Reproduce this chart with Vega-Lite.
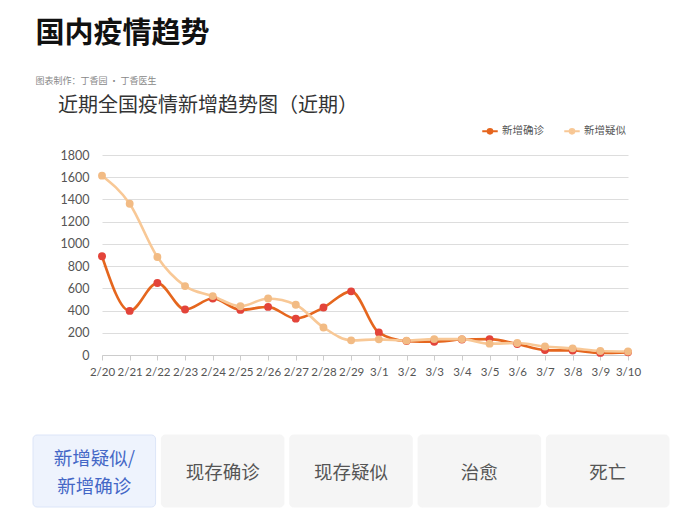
{
  "$schema": "https://vega.github.io/schema/vega-lite/v6.json",
  "background": "white",
  "padding": {"left": 32, "top": 20, "right": 10, "bottom": 5},
  "title": {
    "text": "国内疫情趋势",
    "subtitle": "图表制作：丁香园 · 丁香医生",
    "anchor": "start",
    "font": "Noto Sans CJK SC",
    "fontSize": 29,
    "fontWeight": "bold",
    "color": "#111111",
    "subtitleFont": "Noto Sans CJK SC",
    "subtitleFontSize": 9,
    "subtitleColor": "#888888",
    "subtitlePadding": 28,
    "offset": 10,
    "dx": 3
  },
  "vconcat": [
    {
      "hconcat": [
        {
          "width": 526,
          "height": 200,
          "title": {
            "text": "近期全国疫情新增趋势图（近期）",
            "anchor": "start",
            "frame": "bounds",
            "dx": 25,
            "font": "Noto Sans CJK SC",
            "fontSize": 20,
            "fontWeight": "normal",
            "color": "#333333",
            "offset": 33
          },
          "data": {
            "values": [
              {"d": "2/20", "新增确诊": 889, "新增疑似": 1614},
              {"d": "2/21", "新增确诊": 397, "新增疑似": 1361},
              {"d": "2/22", "新增确诊": 648, "新增疑似": 882},
              {"d": "2/23", "新增确诊": 409, "新增疑似": 620},
              {"d": "2/24", "新增确诊": 508, "新增疑似": 530},
              {"d": "2/25", "新增确诊": 406, "新增疑似": 439},
              {"d": "2/26", "新增确诊": 433, "新增疑似": 508},
              {"d": "2/27", "新增确诊": 327, "新增疑似": 452},
              {"d": "2/28", "新增确诊": 427, "新增疑似": 248},
              {"d": "2/29", "新增确诊": 573, "新增疑似": 132},
              {"d": "3/1", "新增确诊": 202, "新增疑似": 141},
              {"d": "3/2", "新增确诊": 125, "新增疑似": 129},
              {"d": "3/3", "新增确诊": 119, "新增疑似": 143},
              {"d": "3/4", "新增确诊": 139, "新增疑似": 143},
              {"d": "3/5", "新增确诊": 143, "新增疑似": 102},
              {"d": "3/6", "新增确诊": 99, "新增疑似": 108},
              {"d": "3/7", "新增确诊": 44, "新增疑似": 76},
              {"d": "3/8", "新增确诊": 40, "新增疑似": 60},
              {"d": "3/9", "新增确诊": 19, "新增疑似": 36},
              {"d": "3/10", "新增确诊": 24, "新增疑似": 31}
            ]
          },
          "transform": [{"fold": ["新增确诊", "新增疑似"], "as": ["series", "value"]}],
          "encoding": {
            "x": {
              "field": "d",
              "type": "ordinal",
              "sort": null,
              "scale": {"type": "point", "padding": 0},
              "axis": {
                "title": null,
                "labelAngle": 0,
                "labelFont": "Lato",
                "labelFontSize": 11.5,
                "labelColor": "#555555",
                "labelPadding": 6,
                "domainColor": "#cccccc",
                "tickColor": "#cccccc",
                "tickSize": 5,
                "grid": false
              }
            },
            "y": {
              "field": "value",
              "type": "quantitative",
              "scale": {"domain": [0, 1800], "nice": false},
              "axis": {
                "title": null,
                "format": "d",
                "values": [0, 200, 400, 600, 800, 1000, 1200, 1400, 1600, 1800],
                "labelFont": "Lato",
                "labelFontSize": 12.5,
                "labelColor": "#555555",
                "labelPadding": 13,
                "domain": false,
                "ticks": false,
                "gridColor": "#dddddd",
                "gridWidth": 1.2,
                "minExtent": 69
              }
            }
          },
          "layer": [
            {
              "mark": {"type": "line", "interpolate": "monotone", "strokeWidth": 2.6},
              "encoding": {
                "color": {
                  "field": "series",
                  "type": "nominal",
                  "sort": ["新增确诊", "新增疑似"],
                  "scale": {"domain": ["新增确诊", "新增疑似"], "range": ["#e5661e", "#f8c896"]},
                  "legend": {
                    "title": null,
                    "orient": "none",
                    "direction": "horizontal",
                    "legendX": 379,
                    "legendY": -33,
                    "labelFont": "Noto Sans CJK SC",
                    "labelFontSize": 10.5,
                    "labelColor": "#555555",
                    "columnPadding": 16,
                    "labelOffset": 3,
                    "symbolType": "M-1,0H1M-0.3,0A0.3,0.3,0,1,1,0.3,0A0.3,0.3,0,1,1,-0.3,0Z",
                    "symbolSize": 240,
                    "symbolStrokeWidth": 2,
                    "encode": {"symbols": {"update": {"fill": {"scale": "color", "field": "value"}}}}
                  }
                }
              }
            },
            {
              "mark": {"type": "point", "filled": true, "size": 62, "opacity": 1},
              "encoding": {
                "fill": {
                  "field": "series",
                  "type": "nominal",
                  "scale": {"domain": ["新增确诊", "新增疑似"], "range": ["#e3443a", "#f2bb84"]},
                  "legend": null
                }
              }
            }
          ]
        }
      ]
    },
    {
      "width": 567,
      "height": 72,
      "data": {
        "values": [
          {"btn": "新增疑似/\n新增确诊", "sel": "yes"},
          {"btn": "现存确诊", "sel": "no"},
          {"btn": "现存疑似", "sel": "no"},
          {"btn": "治愈", "sel": "no"},
          {"btn": "死亡", "sel": "no"}
        ]
      },
      "encoding": {
        "x": {
          "field": "btn",
          "type": "nominal",
          "sort": null,
          "scale": {"paddingInner": 0.045, "paddingOuter": 0, "range": [-69, 567]},
          "axis": null
        }
      },
      "layer": [
        {
          "mark": {"type": "bar", "cornerRadius": 4, "strokeWidth": 1},
          "encoding": {
            "fill": {
              "field": "sel",
              "type": "nominal",
              "scale": {"domain": ["yes", "no"], "range": ["#eef3fd", "#f5f5f5"]},
              "legend": null
            },
            "stroke": {
              "field": "sel",
              "type": "nominal",
              "scale": {"domain": ["yes", "no"], "range": ["#dce5f8", "#f5f5f5"]},
              "legend": null
            }
          }
        },
        {
          "transform": [{"filter": "datum.sel === 'yes'"}],
          "mark": {"type": "text", "font": "Noto Sans CJK SC", "fontSize": 18.5, "lineBreak": "\n", "lineHeight": 28, "baseline": "middle", "dy": -12, "color": "#4467c6"},
          "encoding": {
            "text": {"field": "btn"}
          }
        },
        {
          "transform": [{"filter": "datum.sel === 'no'"}],
          "mark": {"type": "text", "font": "Noto Sans CJK SC", "fontSize": 18.5, "baseline": "middle", "dy": 2, "color": "#555555"},
          "encoding": {
            "text": {"field": "btn"}
          }
        }
      ]
    }
  ],
  "spacing": 56,
  "resolve": {"scale": {"color": "independent", "fill": "independent", "x": "independent", "stroke": "independent"}},
  "config": {"view": {"stroke": null}}
}
